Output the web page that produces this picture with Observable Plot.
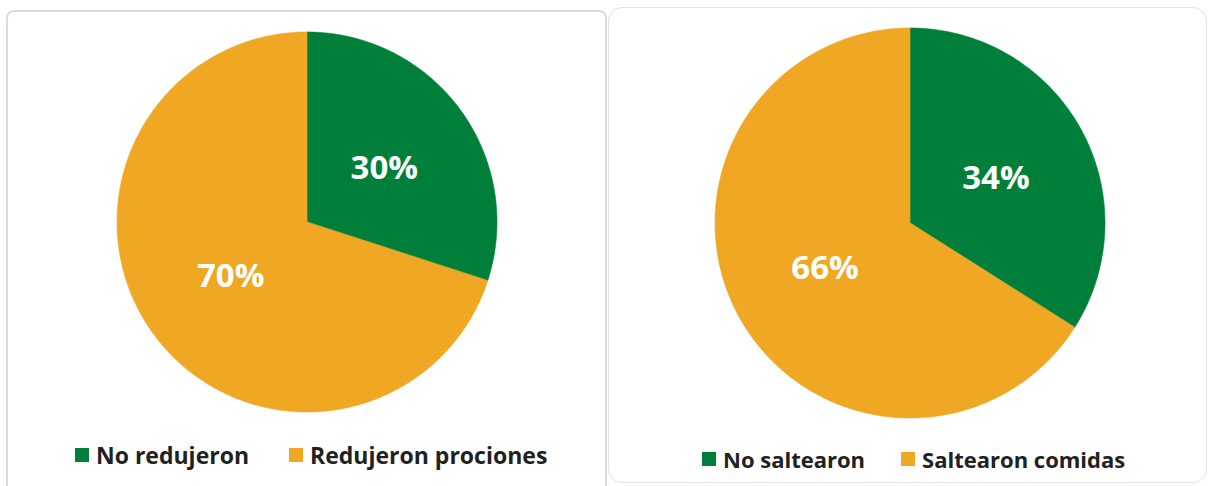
<!DOCTYPE html>
<html>
<head>
<meta charset="utf-8">
<script src="https://cdn.jsdelivr.net/npm/d3@7"></script>
<script src="https://cdn.jsdelivr.net/npm/@observablehq/plot@0.6"></script>
<style>
  html, body { margin: 0; padding: 0; background: #fff; width: 1209px; height: 486px; overflow: hidden; }
  body { position: relative; font-family: "Open Sans", sans-serif; }
  .panel { position: absolute; box-sizing: border-box; background: #fff; }
  #p1 { left: 6px; top: 10px; width: 601px; height: 490px; border: 2px solid #dadada; border-radius: 8px; }
  #p2 { left: 608px; top: 7px; width: 599px; height: 476px; border: 1.5px solid #e2e2e2; border-radius: 14px; }
  .chart { position: absolute; }
  .legend { position: absolute; display: flex; align-items: center; font-weight: 700; color: #212121; white-space: nowrap; }
  .legend .item { display: flex; align-items: center; }
  .legend .sw { width: 14px; height: 14px; display: inline-block; margin-right: 7px; }
</style>
</head>
<body>
<div class="panel" id="p1"></div>
<div class="panel" id="p2"></div>
<div class="chart" id="c1" style="left:117px; top:32px;"></div>
<div class="chart" id="c2" style="left:715px; top:28px;"></div>
<div class="legend" id="l1" style="left:75px; top:439px; font-size:23px;"></div>
<div class="legend" id="l2" style="left:702px; top:444px; font-size:22px;"></div>
<script>
// ---- data ----
const pie1Categories = ["No redujeron", "Redujeron prociones"];
const pie1Values = [30, 70];
const pie2Categories = ["No saltearon", "Saltearon comidas"];
const pie2Values = [34, 66];
const sliceColors = ["#007f3b", "#efa724"];

function slicePoints(categories, values) {
  const arcs = d3.pie().sort(null).value(d => d)(values);
  const pts = [];
  arcs.forEach((a, i) => {
    const n = Math.max(2, Math.ceil((a.endAngle - a.startAngle) / (2 * Math.PI) * 360));
    for (let k = 0; k <= n; k++) {
      const t = a.startAngle + (a.endAngle - a.startAngle) * k / n;
      pts.push({cat: categories[i], x1: Math.sin(t), y1: Math.cos(t), x2: 0, y2: 0});
    }
  });
  const labels = arcs.map((a, i) => {
    const m = (a.startAngle + a.endAngle) / 2;
    return {cat: categories[i], x: 0.5 * Math.sin(m), y: 0.48 * Math.cos(m), label: values[i] + "%"};
  });
  return {pts, labels};
}

function pie(categories, values, size) {
  const {pts, labels} = slicePoints(categories, values);
  return Plot.plot({
    width: size, height: size,
    margin: 0,
    x: {domain: [-1, 1], axis: null},
    y: {domain: [-1, 1], axis: null},
    color: {domain: categories, range: sliceColors},
    marks: [
      Plot.area(pts, {x1: "x1", y1: "y1", x2: "x2", y2: "y2", z: "cat", fill: "cat", stroke: "cat", strokeWidth: 0.6, curve: "linear"}),
      Plot.text(labels, {x: "x", y: "y", text: "label", fill: "white", fontSize: 33, fontWeight: "bold", fontFamily: "Open Sans"})
    ],
    style: {background: "transparent", overflow: "visible"}
  });
}

function legend(el, categories, gap) {
  categories.forEach((c, i) => {
    const item = document.createElement("div");
    item.className = "item";
    if (i > 0) item.style.marginLeft = gap + "px";
    const sw = document.createElement("span");
    sw.className = "sw";
    sw.style.background = sliceColors[i];
    item.appendChild(sw);
    item.appendChild(document.createTextNode(c));
    el.appendChild(item);
  });
}

document.getElementById("c1").appendChild(pie(pie1Categories, pie1Values, 380));
document.getElementById("c2").appendChild(pie(pie2Categories, pie2Values, 390));
legend(document.getElementById("l1"), pie1Categories, 40);
legend(document.getElementById("l2"), pie2Categories, 36);
</script>
</body>
</html>
